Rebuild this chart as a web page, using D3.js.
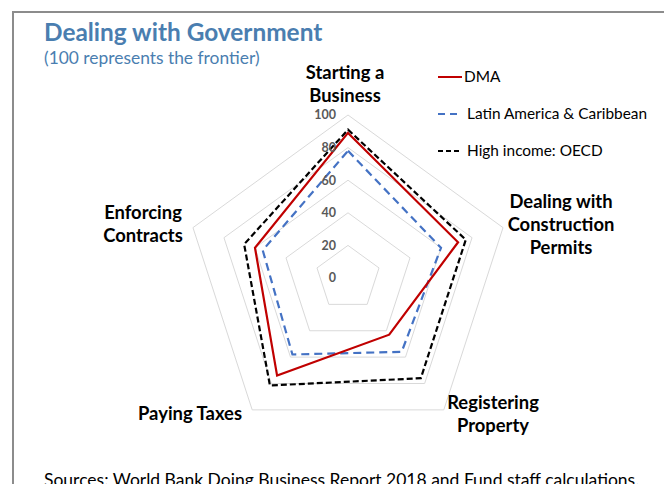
<!DOCTYPE html>
<html><head><meta charset="utf-8">
<script src="https://cdn.jsdelivr.net/npm/d3@7"></script>
<style>body{margin:0;background:#fff;} svg{display:block;}</style>
</head><body>
<svg id="chart" width="664" height="484"></svg>
<script>
const axes = ["Starting a Business", "Dealing with Construction Permits", "Registering Property", "Paying Taxes", "Enforcing Contracts"];
const axisLabelLines = [["Starting a", "Business"], ["Dealing with", "Construction", "Permits"], ["Registering", "Property"], ["Paying Taxes"], ["Enforcing", "Contracts"]];
const dma = [89, 71, 43, 74, 60];
const lac = [78, 60, 56, 58, 55];
const oecd = [91, 76, 76, 81.5, 67];
const ticks = [0, 20, 40, 60, 80, 100];
const seriesNames = ["DMA", "Latin America & Caribbean", "High income: OECD"];

const svg = d3.select("#chart");
const font = "Lato, 'Open Sans', sans-serif";
const cx = 348, cy = 278, R = 163;

// frame
svg.append("rect").attr("x", 13).attr("y", 12).attr("width", 700).attr("height", 520)
  .attr("fill", "none").attr("stroke", "#8c8c8c").attr("stroke-width", 2);

svg.append("text").attr("x", 44).attr("y", 41).text("Dealing with Government")
  .attr("font-family", font).attr("font-weight", "bold").attr("font-size", 24.4).attr("fill", "#4a7eb0");
svg.append("text").attr("x", 44).attr("y", 64).text("(100 represents the frontier)")
  .attr("font-family", font).attr("font-size", 17.4).attr("fill", "#4a7eb0");

const r = d3.scaleLinear().domain([0, 100]).range([0, R]);
const angle = d3.scaleLinear().domain([0, axes.length]).range([0, 2 * Math.PI]);

const g = svg.append("g").attr("transform", `translate(${cx},${cy})`);

// grid rings
const ring = d3.lineRadial().angle((d, i) => angle(i)).radius(d => r(d)).curve(d3.curveLinearClosed);
ticks.filter(t => t > 0).forEach(t => {
  g.append("path").attr("d", ring(axes.map(() => t)))
    .attr("fill", "none").attr("stroke", "#d9d9d9").attr("stroke-width", 1);
});

// series
const series = [
  {vals: lac, color: "#4472c4", dash: "8,5", w: 2.2},
  {vals: oecd, color: "#000000", dash: "6,3", w: 2.2},
  {vals: dma, color: "#c00000", dash: null, w: 2.2}
];
series.forEach(s => {
  g.append("path").attr("d", ring(s.vals)).attr("fill", "none")
    .attr("stroke", s.color).attr("stroke-width", s.w)
    .attr("stroke-dasharray", s.dash).attr("stroke-linejoin", "miter");
});

// tick labels
ticks.forEach(t => {
  g.append("text").attr("x", -12).attr("y", -r(t)).attr("dy", "0.35em")
    .attr("text-anchor", "end").text(t)
    .attr("font-family", font).attr("font-weight", "bold").attr("font-size", 12.5).attr("fill", "#595959");
});

// axis labels
const labelPos = [[345, 73], [561, 202], [493, 403], [190, 414], [143, 213]];
axisLabelLines.forEach((lines, i) => {
  const t = svg.append("text").attr("text-anchor", "middle")
    .attr("font-family", font).attr("font-weight", "bold").attr("font-size", 18.4).attr("fill", "#000");
  lines.forEach((ln, j) => {
    t.append("tspan").attr("x", labelPos[i][0]).attr("y", labelPos[i][1] + j * 23).attr("dy", "0.35em").text(ln);
  });
});

// legend
const legY = [77, 114, 151];
const legStyles = [
  {color: "#c00000", dash: null, x1: 438, x2: 462, tx: 464},
  {color: "#4472c4", dash: "7,5", x1: 438, x2: 462, tx: 467},
  {color: "#000000", dash: "5,3", x1: 438, x2: 462, tx: 467}
];
seriesNames.forEach((n, i) => {
  const st = legStyles[i];
  svg.append("line").attr("x1", st.x1).attr("x2", st.x2).attr("y1", legY[i]).attr("y2", legY[i])
    .attr("stroke", st.color).attr("stroke-width", 2).attr("stroke-dasharray", st.dash);
  svg.append("text").attr("x", st.tx).attr("y", legY[i]).attr("dy", "0.35em").text(n)
    .attr("font-family", font).attr("font-size", 15.4).attr("fill", "#000");
});

svg.append("text").attr("x", 44).attr("y", 486).text("Sources: World Bank Doing Business Report 2018 and Fund staff calculations.")
  .attr("font-family", font).attr("font-size", 17.5).attr("fill", "#000");
</script>
</body></html>
